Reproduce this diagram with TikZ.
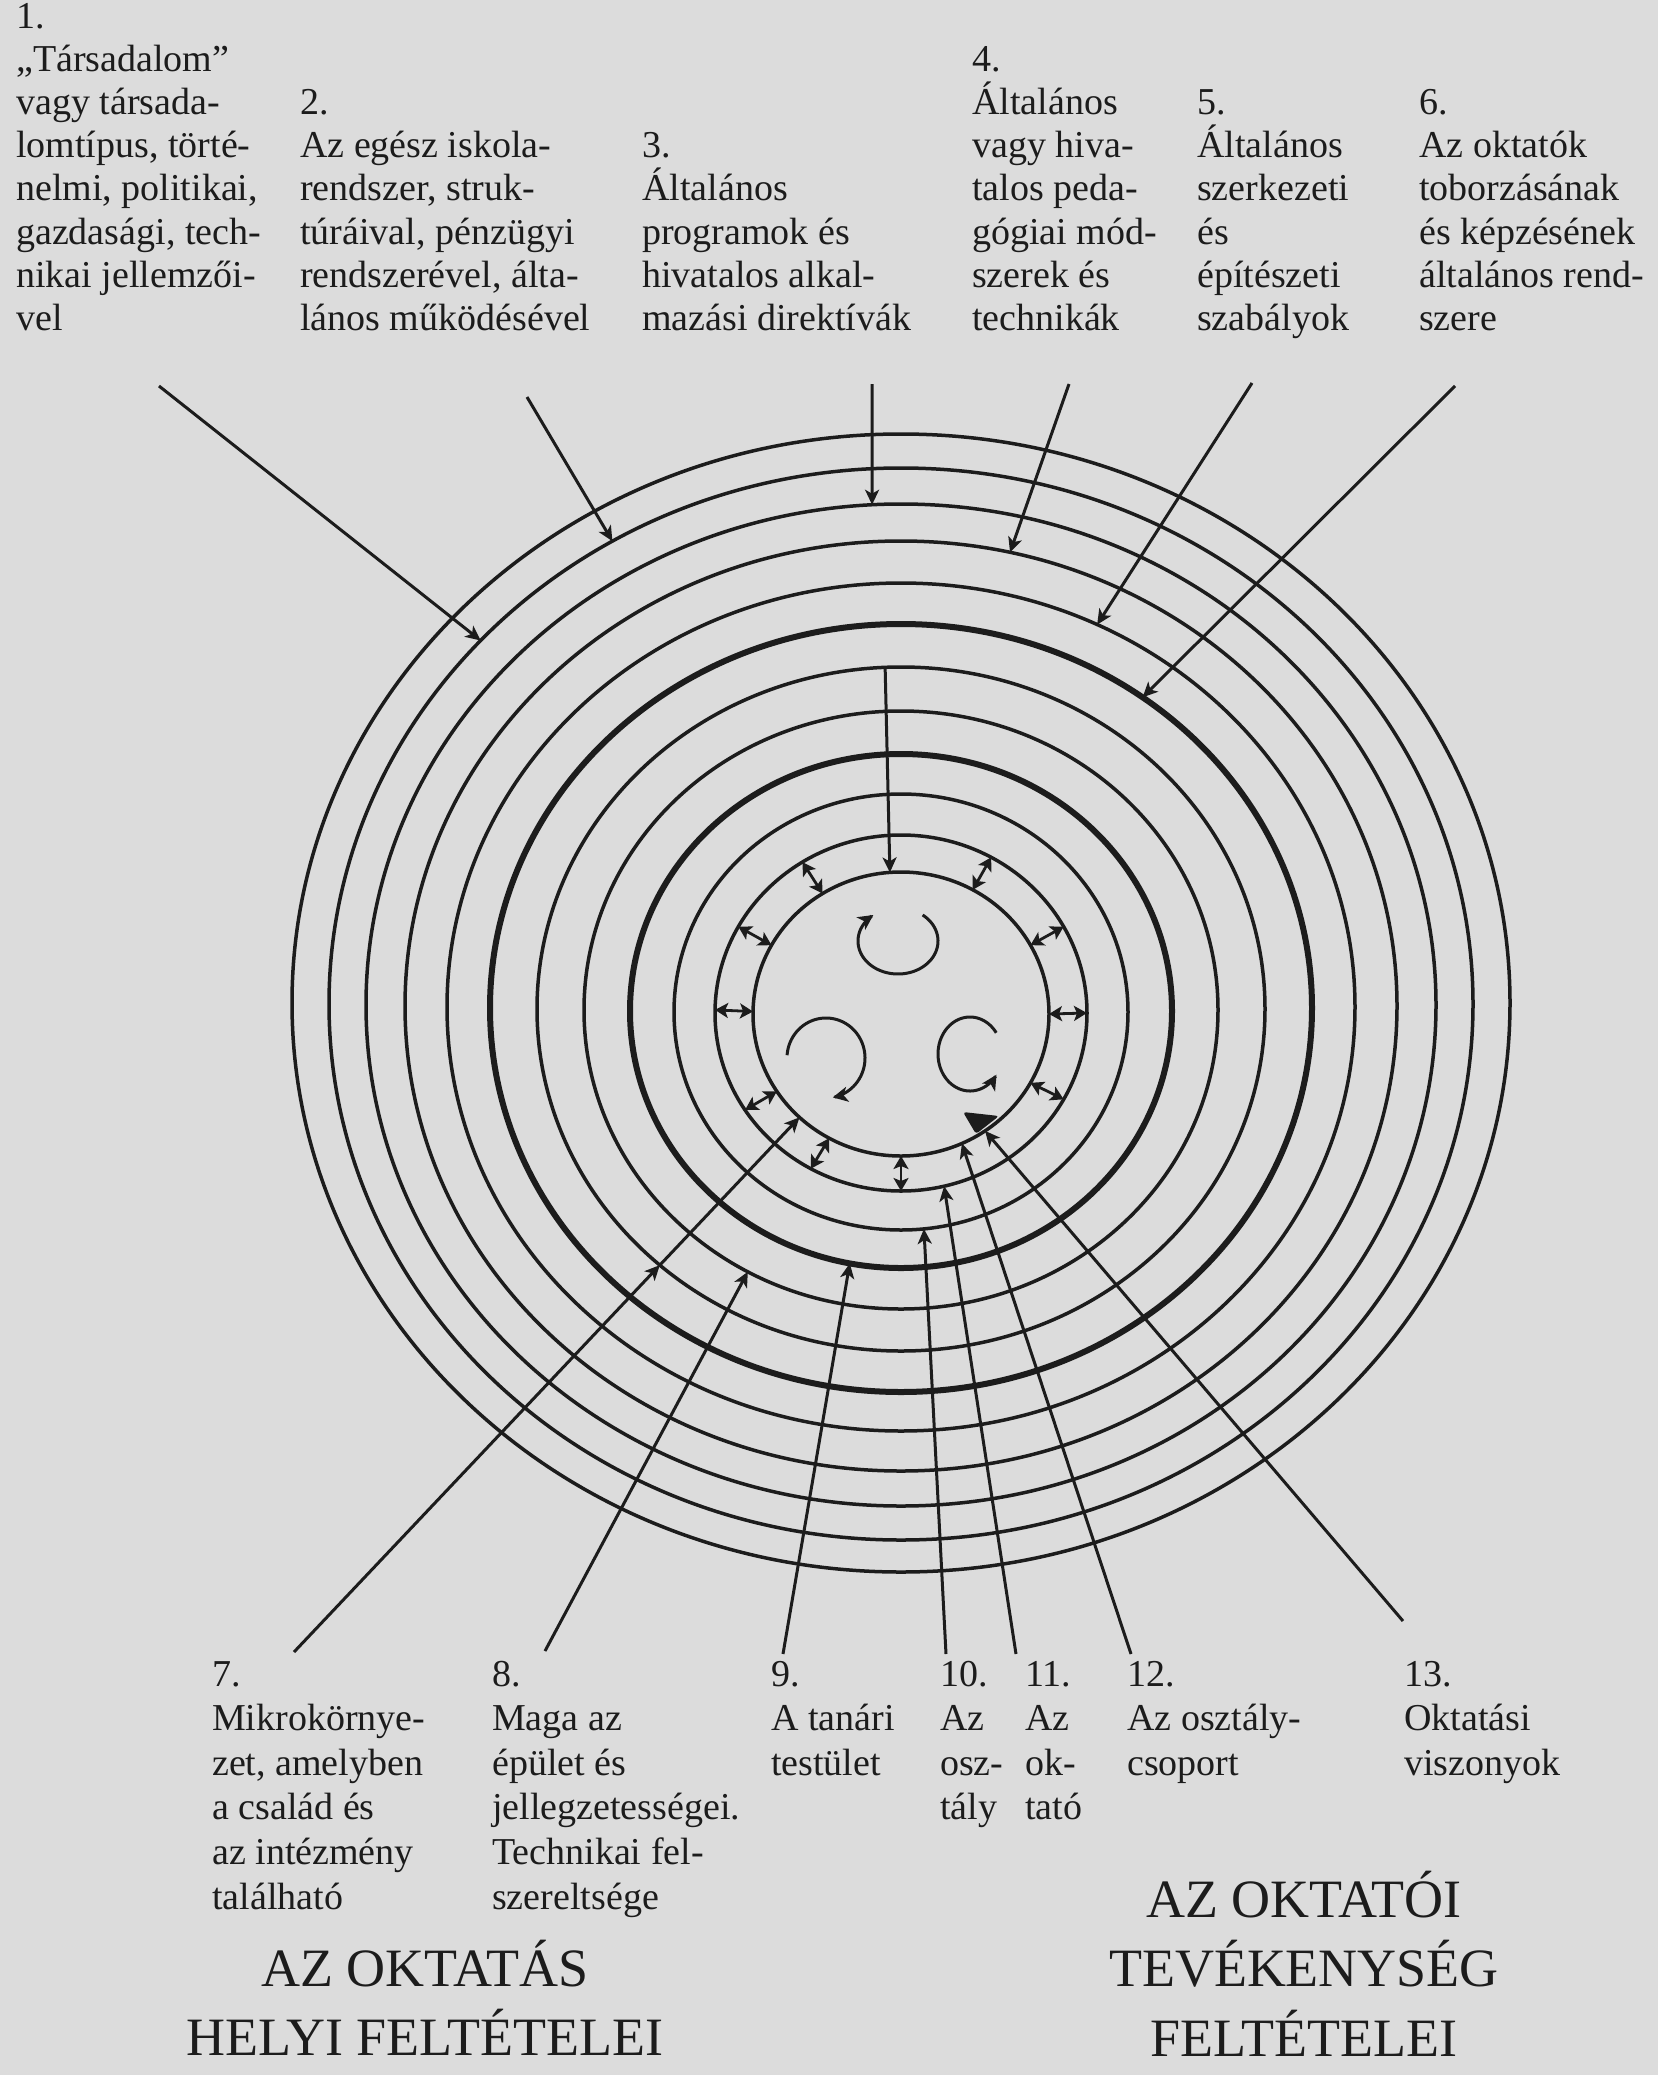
\documentclass[tikz,border=0pt]{standalone}
\usepackage{fontspec}
\setmainfont{Liberation Serif}
\usetikzlibrary{arrows.meta}
\definecolor{bgc}{RGB}{220,220,220}
\definecolor{ink}{RGB}{28,28,28}
\newcommand{\colbox}[1]{\parbox[t]{400pt}{\raggedright #1}}
\newcommand{\ttlbox}[1]{\parbox[t]{700pt}{\centering #1}}
\begin{document}
\begin{tikzpicture}[x=1pt,y=-1pt,
  ring/.style={draw=ink,line width=3.5pt},
  thickring/.style={draw=ink,line width=6pt},
  conn/.style={draw=ink,line width=3pt,-{Stealth[length=15pt,width=14pt,inset=4pt]}},
  dbl/.style={draw=ink,line width=2.8pt,{Stealth[length=13pt,width=15pt,inset=3pt]}-{Stealth[length=13pt,width=15pt,inset=3pt]}},
  curl/.style={draw=ink,line width=3pt,-{Stealth[length=15pt,width=15pt,inset=4pt]}},
  lbl/.style={inner sep=0pt,anchor=base west,text=ink,font=\fontsize{38}{43.1}\selectfont},
  blbl/.style={inner sep=0pt,anchor=base west,text=ink,font=\fontsize{38}{44.6}\selectfont},
  ttl/.style={inner sep=0pt,anchor=base,text=ink,font=\fontsize{54}{69.5}\selectfont}]
\fill[bgc] (0,0) rectangle (1658,2075);
\useasboundingbox (0,0) rectangle (1658,2075);

% ring centres
\coordinate (c1) at (901,1003);
\coordinate (c2) at (901,1004);
\coordinate (c3) at (901,1005);
\coordinate (c4) at (901,1006);
\coordinate (c5) at (901,1007);
\coordinate (c6) at (901,1008);
\coordinate (c7) at (901,1009);
\coordinate (c8) at (901,1010);
\coordinate (c9) at (901,1011);
\coordinate (c10) at (901,1012);
\coordinate (c11) at (901,1013);
\coordinate (c12) at (901,1014);

% rings
\draw[ring] (c1) ellipse [x radius=609pt, y radius=569pt];
\draw[ring] (c2) ellipse [x radius=572pt, y radius=536pt];
\draw[ring] (c3) ellipse [x radius=535pt, y radius=501pt];
\draw[ring] (c4) ellipse [x radius=496pt, y radius=465pt];
\draw[ring] (c5) ellipse [x radius=454pt, y radius=424pt];
\draw[thickring] (c6) ellipse [x radius=411pt, y radius=384pt];
\draw[ring] (c7) ellipse [x radius=364pt, y radius=342pt];
\draw[ring] (c8) ellipse [x radius=317pt, y radius=299pt];
\draw[thickring] (c9) ellipse [x radius=271pt, y radius=257pt];
\draw[ring] (c10) ellipse [x radius=227pt, y radius=218pt];
\draw[ring] (c11) ellipse [x radius=186pt, y radius=178pt];
\draw[ring] (c12) ellipse [x radius=148pt, y radius=142pt];

% top labels
\node[lbl] (l1) at (16,28.5) {\colbox{1.\\„Társadalom”\\vagy társada-\\lomtípus, törté-\\nelmi, politikai,\\gazdasági, tech-\\nikai jellemzői-\\vel}};
\node[lbl] (l2) at (300,114.7) {\colbox{2.\\Az egész iskola-\\rendszer, struk-\\túráival, pénzügyi\\rendszerével, álta-\\lános működésével}};
\node[lbl] (l3) at (642,157.8) {\colbox{3.\\Általános\\programok és\\hivatalos alkal-\\mazási direktívák}};
\node[lbl] (l4) at (972,71.6) {\colbox{4.\\Általános\\vagy hiva-\\talos peda-\\gógiai mód-\\szerek és\\technikák}};
\node[lbl] (l5) at (1197,114.7) {\colbox{5.\\Általános\\szerkezeti\\és\\építészeti\\szabályok}};
\node[lbl] (l6) at (1419,114.7) {\colbox{6.\\Az oktatók\\toborzásának\\és képzésének\\általános rend-\\szere}};

% bottom labels
\node[blbl] (l7) at (212,1686) {\colbox{7.\\Mikrokörnye-\\zet, amelyben\\a család és\\az intézmény\\található}};
\node[blbl] (l8) at (492,1686) {\colbox{8.\\Maga az\\épület és\\jellegzetességei.\\Technikai fel-\\szereltsége}};
\node[blbl] (l9) at (771,1686) {\colbox{9.\\A tanári\\testület}};
\node[blbl] (l10) at (940,1686) {\colbox{10.\\Az\\osz-\\tály}};
\node[blbl] (l11) at (1025,1686) {\colbox{11.\\Az\\ok-\\tató}};
\node[blbl] (l12) at (1127,1686) {\colbox{12.\\Az osztály-\\csoport}};
\node[blbl] (l13) at (1404,1686) {\colbox{13.\\Oktatási\\viszonyok}};

% titles
\node[ttl] (t1) at (425,1986) {\ttlbox{AZ OKTATÁS\\HELYI FELTÉTELEI}};
\node[ttl] (t2) at (1304,1917) {\ttlbox{AZ OKTATÓI\\TEVÉKENYSÉG\\FELTÉTELEI}};

% arrow start points
\coordinate (s1) at (159,386);
\coordinate (s2) at (527,397);
\coordinate (s3) at (872.1,384);
\coordinate (s4) at (1069,384);
\coordinate (s5) at (1252,383);
\coordinate (s6) at (1455,386);
\coordinate (s7) at (294,1652);
\coordinate (s8) at (545,1651);
\coordinate (s9) at (783,1654);
\coordinate (s10) at (946,1654);
\coordinate (s11) at (1016,1654);
\coordinate (s12) at (1131,1654);
\coordinate (s13) at (1403,1621);

% arrow end points on the rings
\coordinate (e1) at ({901+572*cos(222.7)},{1004+536*sin(222.7)});
\coordinate (e2) at ({901+572*cos(239.7)},{1004+536*sin(239.7)});
\coordinate (e3) at ({901+535*cos(266.9)},{1005+501*sin(266.9)});
\coordinate (e4) at ({901+496*cos(282.7)},{1006+465*sin(282.7)});
\coordinate (e5) at ({901+454*cos(295.6)},{1007+424*sin(295.6)});
\coordinate (e6) at ({901+411*cos(306)},{1008+384*sin(306)});
\coordinate (m7) at ({901+364*cos(131.5)},{1009+342*sin(131.5)});
\coordinate (e7) at ({901+148*cos(133.3)},{1014+142*sin(133.3)});
\coordinate (e8) at ({901+317*cos(118.9)},{1010+299*sin(118.9)});
\coordinate (e9) at ({901+271*cos(100.9)},{1011+257*sin(100.9)});
\coordinate (e10) at ({901+227*cos(84.2)},{1012+218*sin(84.2)});
\coordinate (e11) at ({901+186*cos(76.6)},{1013+178*sin(76.6)});
\coordinate (e12) at ({901+148*cos(65.7)},{1014+142*sin(65.7)});
\coordinate (e13) at ({901+148*cos(55.4)},{1014+142*sin(55.4)});

\foreach \i in {1,2,3,4,5,6,8,9,10,11,12,13} { \draw[conn] (s\i) -- (e\i); }
% arrow 7: marked at ring 7, continuing to the inner circle
\draw[conn] (s7) -- (m7);
\draw[conn] (m7) -- (e7);

% blob where arrows meet the inner circle
\fill[ink,rounded corners=3pt] (963,1112) -- (999,1116) -- (976,1134) -- cycle;

% central arrow from ring 7 to the inner circle
\coordinate (ctop) at ({901+364*cos(267.5)},{1009+342*sin(267.5)});
\coordinate (cbot) at ({901+148*cos(265.7)},{1014+142*sin(265.7)});
\draw[conn] (ctop) -- (cbot);

% double arrows between inner circle and ring 11
\foreach \a in {0,29,90,119,147,181,209,238,299,331} {
  \coordinate (di\a) at ({901+148*cos(\a)},{1014+142*sin(\a)});
  \coordinate (do\a) at ({901+186*cos(\a)},{1013+178*sin(\a)});
  \draw[dbl] (di\a) -- (do\a);
}

% circular arrows
\draw[curl] plot[domain=-52:232,samples=90] ({898+40*cos(\x)},{941+33*sin(\x)});
\draw[curl] plot[domain=184:440,samples=90] ({826+39*cos(\x)},{1058+40*sin(\x)});
\draw[curl] plot[domain=325:34,samples=90] ({970+32*cos(\x)},{1054+37*sin(\x)});
\end{tikzpicture}
\end{document}
